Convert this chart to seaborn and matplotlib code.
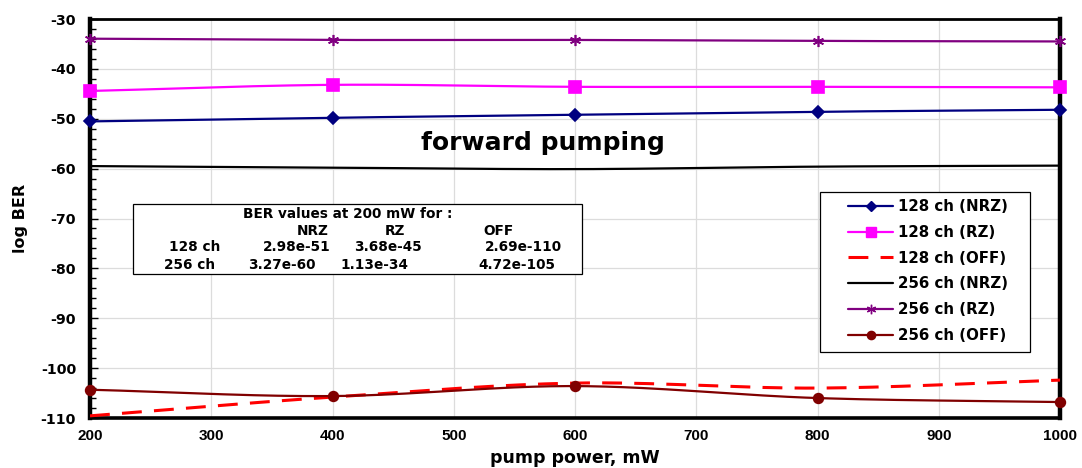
import numpy as np
import pandas as pd
import matplotlib
matplotlib.use("Agg")
import matplotlib.pyplot as plt
from matplotlib.lines import Line2D
from matplotlib.patches import Rectangle
from matplotlib.ticker import MultipleLocator
import seaborn as sns

# pump power (mW) and log BER for each case
pump_power = [200, 400, 600, 800, 1000]
ber_128_nrz = [-50.53, -49.8, -49.2, -48.6, -48.2]
ber_128_rz = [-44.43, -43.2, -43.6, -43.6, -43.7]
ber_128_off = [-109.57, -105.8, -103.0, -104.0, -102.4]
ber_256_nrz = [-59.49, -59.8, -60.1, -59.6, -59.4]
ber_256_rz = [-33.95, -34.2, -34.2, -34.4, -34.5]
ber_256_off = [-104.33, -105.6, -103.6, -106.0, -106.8]

series_names = ["128 ch (NRZ)", "128 ch (RZ)", "128 ch (OFF)",
                "256 ch (NRZ)", "256 ch (RZ)", "256 ch (OFF)"]
series_values = [ber_128_nrz, ber_128_rz, ber_128_off,
                 ber_256_nrz, ber_256_rz, ber_256_off]

table_cols = ["NRZ", "RZ", "OFF"]
table_128 = ["2.98e-51", "3.68e-45", "2.69e-110"]
table_256 = ["3.27e-60", "1.13e-34", "4.72e-105"]

sns.set_theme(style="white")
plt.rcParams["font.family"] = ["Liberation Sans", "DejaVu Sans"]
plt.rcParams["font.weight"] = "bold"
plt.rcParams["axes.unicode_minus"] = False
for key in ("text.color", "axes.labelcolor", "xtick.color", "ytick.color"):
    plt.rcParams[key] = "black"

WIDE = "DejaVu Sans"

styles = {
    "128 ch (NRZ)": dict(color="#000080", marker="D", ms=6, ls="-", lw=1.6),
    "128 ch (RZ)": dict(color="#ff00ff", marker="s", ms=8, ls="-", lw=1.6),
    "128 ch (OFF)": dict(color="#ff0000", marker=None, ms=0,
                         ls=(0, (6.5, 4)), lw=2.2),
    "256 ch (NRZ)": dict(color="#000000", marker=None, ms=0, ls="-", lw=1.6),
    "256 ch (RZ)": dict(color="#800080", marker=(6, 2, 0), ms=8, ls="-",
                        lw=1.6),
    "256 ch (OFF)": dict(color="#800000", marker="o", ms=7, ls="-", lw=1.6),
}


def smooth(x, y, n=40):
    """Catmull-Rom spline through the points, for a smoothed line."""
    x = np.asarray(x, float)
    y = np.asarray(y, float)
    px = np.concatenate([[2 * x[0] - x[1]], x, [2 * x[-1] - x[-2]]])
    py = np.concatenate([[2 * y[0] - y[1]], y, [2 * y[-1] - y[-2]]])
    xs, ys = [], []
    t = np.linspace(0, 1, n, endpoint=False)
    for i in range(1, len(px) - 2):
        for arr, out in ((px, xs), (py, ys)):
            p0, p1, p2, p3 = arr[i - 1], arr[i], arr[i + 1], arr[i + 2]
            out.extend(0.5 * (2 * p1 + (-p0 + p2) * t
                              + (2 * p0 - 5 * p1 + 4 * p2 - p3) * t ** 2
                              + (-p0 + 3 * p1 - 3 * p2 + p3) * t ** 3))
    xs.append(x[-1])
    ys.append(y[-1])
    return np.array(xs), np.array(ys)


fig = plt.figure(figsize=(10.82, 4.68), dpi=100)
ax = fig.add_axes([90 / 1082, 1 - 418 / 468, 970 / 1082, 399 / 468])

for name, vals in zip(series_names, series_values):
    st = styles[name]
    sx, sy = smooth(pump_power, vals)
    curve = pd.DataFrame({"x": sx, "y": sy})
    sns.lineplot(data=curve, x="x", y="y", ax=ax, color=st["color"],
                 lw=st["lw"], sort=False, estimator=None, zorder=3)
    ax.lines[-1].set_linestyle(st["ls"])
    if st["marker"] is not None:
        ax.plot(pump_power, vals, ls="none", marker=st["marker"],
                ms=st["ms"], color=st["color"], mec=st["color"],
                mew=1.2, zorder=4, clip_on=False)

ax.set_xlim(200, 1000)
ax.set_ylim(-110, -30)
ax.xaxis.set_major_locator(MultipleLocator(100))
ax.yaxis.set_major_locator(MultipleLocator(10))
ax.yaxis.set_minor_locator(MultipleLocator(2))
ax.grid(True, which="major", color="#dcdcdc", lw=0.9)
ax.set_axisbelow(True)

for side, w in (("left", 3.2), ("right", 3.2), ("top", 2.0), ("bottom", 2.6)):
    ax.spines[side].set_visible(True)
    ax.spines[side].set_color("black")
    ax.spines[side].set_linewidth(w)

ax.tick_params(axis="y", which="major", direction="in", length=6, width=1,
               color="black", left=True, labelsize=10.2, pad=10)
ax.tick_params(axis="y", which="minor", direction="in", length=4, width=1,
               color="black", left=True)
ax.tick_params(axis="x", which="major", length=0, labelsize=11, pad=8)
for lab in ax.get_xticklabels():
    lab.set_fontweight("bold")
for lab in ax.get_yticklabels():
    lab.set_fontweight("bold")
    lab.set_family(WIDE)

ax.set_xlabel("pump power, mW", fontsize=12.5, fontweight="bold",
              family=WIDE, labelpad=4)
ax.set_ylabel("log BER", fontsize=11.5, fontweight="bold",
              family=WIDE, labelpad=9)


def fx(px):
    return (px - 90) / 970


def fy(py):
    return (418 - py) / 399


ax.text(fx(543), fy(143), "forward pumping", fontsize=18, fontweight="bold",
        family=WIDE, ha="center", va="center", transform=ax.transAxes)

# summary box of BER values at 200 mW
ax.add_patch(Rectangle((fx(133), fy(274)), fx(582) - fx(133), fy(204) - fy(274),
                       transform=ax.transAxes, fill=True, fc="white",
                       ec="black", lw=0.9, zorder=5))
tkw = dict(transform=ax.transAxes, fontsize=9.8, fontweight="bold",
           family=WIDE, va="center", zorder=6)
ax.text(fx(348), fy(214), "BER values at 200 mW for :", ha="center", **tkw)
for cx, col in zip((313, 395, 498), table_cols):
    ax.text(fx(cx), fy(231), col, ha="center", **tkw)
ax.text(fx(195), fy(247), "128 ch", ha="center", **tkw)
ax.text(fx(190), fy(265), "256 ch", ha="center", **tkw)
for cx, val in zip((297, 388, 523), table_128):
    ax.text(fx(cx), fy(247), val, ha="center", **tkw)
for cx, val in zip((282, 374, 517), table_256):
    ax.text(fx(cx), fy(265), val, ha="center", **tkw)

# legend: frame drawn as its own box, entries placed inside it
ax.add_patch(Rectangle((fx(820), fy(352)), fx(1030) - fx(820), fy(192) - fy(352),
                       transform=ax.transAxes, fill=True, fc="white",
                       ec="black", lw=0.9, zorder=6))
handles = []
for name in series_names:
    st = styles[name]
    handles.append(Line2D([0], [0], color=st["color"], lw=st["lw"],
                          ls=st["ls"],
                          marker=st["marker"] if st["marker"] else None,
                          ms=st["ms"] * 0.85, mec=st["color"]))
leg = ax.legend(handles, series_names, loc="upper left",
                bbox_to_anchor=(fx(848), fy(199)), frameon=False,
                prop=dict(family=WIDE, weight="bold", size=10.8),
                handlelength=3.0, handletextpad=0.33, labelspacing=0.72,
                borderpad=0, borderaxespad=0)
leg.set_zorder(7)

fig.savefig("out.png", dpi=100)
